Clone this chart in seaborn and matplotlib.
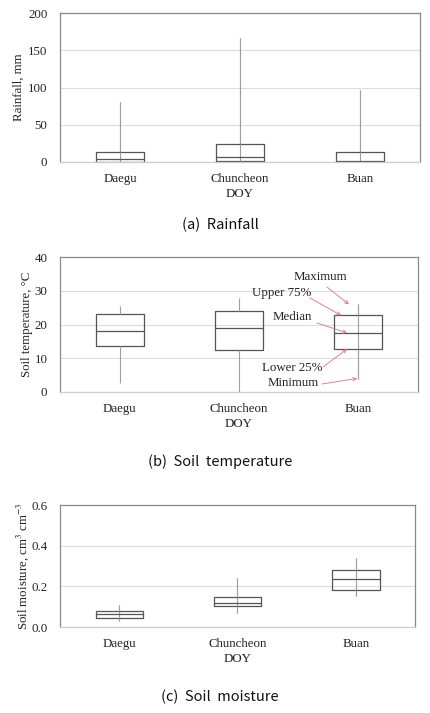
import pandas as pd
import seaborn as sns
import matplotlib
matplotlib.use('Agg')
import matplotlib.pyplot as plt
from matplotlib.ticker import FixedLocator

sites = ['Daegu', 'Chuncheon', 'Buan']

# five-number summaries: min, q1, median, q3, max
rain_min = [0.0, 0.0, 0.0]
rain_q1 = [0.5, 1.0, 0.5]
rain_med = [3.5, 7.0, 2.0]
rain_q3 = [13.0, 23.5, 13.5]
rain_max = [81.0, 167.0, 96.0]

temp_min = [2.7, 0.0, 4.0]
temp_q1 = [13.5, 12.5, 12.7]
temp_med = [18.0, 19.0, 17.5]
temp_q3 = [23.0, 24.0, 22.7]
temp_max = [25.5, 27.8, 26.0]

sm_min = [0.030, 0.070, 0.152]
sm_q1 = [0.045, 0.105, 0.183]
sm_med = [0.063, 0.120, 0.237]
sm_q3 = [0.077, 0.148, 0.280]
sm_max = [0.107, 0.243, 0.337]

def make_df(mn, q1, med, q3, mx):
    rows = []
    for i, s in enumerate(sites):
        for v in (mn[i], q1[i], med[i], q3[i], mx[i]):
            rows.append({'site': s, 'value': v})
    return pd.DataFrame(rows)

sns.set_style('white')
plt.rcParams['font.family'] = ['Liberation Serif', 'DejaVu Serif']
plt.rcParams['mathtext.fontset'] = 'stix'

FS = 9.3
TXT = '#222222'
fig = plt.figure(figsize=(4.31, 7.13), dpi=100)
W, H = 431.0, 713.0

def panel(top, bottom, right, df, mn, mx, ylim, yticks, yfmt, ylabel, caption, cap_y,
          through=(True, True, True), lpad=2):
    ax = fig.add_axes([60 / W, (H - bottom) / H, (right - 60) / W, (bottom - top) / H])
    # whisker line from min to max (drawn through the box)
    for i in range(len(sites)):
        if through[i]:
            ax.vlines(i, mn[i], mx[i], color='#a0a0a0', lw=0.8, zorder=1)
    sns.boxplot(data=df, x='site', y='value', whis=(0, 100), width=0.4,
                fill=False, showcaps=False, showfliers=False, color='#555555',
                linewidth=0.9, whiskerprops={'color': '#a0a0a0', 'linewidth': 0.8},
                medianprops={'color': '#555555', 'linewidth': 0.9}, ax=ax, zorder=2)
    ax.set_xlim(-0.5, 2.5)
    ax.set_ylim(*ylim)
    ax.set_yticks(yticks)
    ax.set_yticklabels([yfmt.format(t) for t in yticks], fontsize=FS, color=TXT)
    ax.set_xticks(range(len(sites)))
    ax.set_xticklabels(sites, fontsize=FS, color=TXT)
    ax.xaxis.set_minor_locator(FixedLocator([-0.5, 0.5, 1.5, 2.5]))
    ax.tick_params(axis='x', which='major', length=0, pad=8)
    ax.tick_params(axis='x', which='minor', length=3, color='#bbbbbb', direction='out')
    ax.tick_params(axis='y', length=0, pad=9)
    ax.yaxis.grid(True, color='#dddddd', lw=0.8)
    ax.set_axisbelow(True)
    for s in ax.spines.values():
        s.set_color('#8a8a8a')
        s.set_linewidth(0.9)
    ax.spines['bottom'].set_color('#cccccc')
    ax.set_xlabel('DOY', fontsize=FS, color=TXT, labelpad=2)
    ax.set_ylabel(ylabel, fontsize=FS, color=TXT, labelpad=lpad)
    fig.text(220 / W, 1 - cap_y / H, caption, ha='center', va='center', fontsize=10.5,
             family=['Noto Sans CJK KR', 'DejaVu Sans'], color='#111111')
    return ax

panel(13, 162, 420, make_df(rain_min, rain_q1, rain_med, rain_q3, rain_max),
      rain_min, rain_max, (0, 200), [0, 50, 100, 150, 200], '{:.0f}',
      'Rainfall, mm', '(a)  Rainfall', 225, lpad=2)

axb = panel(257, 392, 418, make_df(temp_min, temp_q1, temp_med, temp_q3, temp_max),
            temp_min, temp_max, (0, 40), [0, 10, 20, 30, 40], '{:.0f}',
            'Soil temperature, \u00b0C', '(b)  Soil  temperature', 462,
            through=(False, False, True), lpad=1)

# legend-style annotations on the Buan box: label, text centre (px), arrow tail (px), arrow tip (data)
ann = [('Maximum', (320, 277), (327, 287), (1.92, temp_max[2])),
       ('Upper 75%', (282, 293), (310, 298), (1.855, temp_q3[2])),
       ('Median', (292, 317), (317, 323), (1.905, temp_med[2])),
       ('Lower 25%', (292, 368), (323, 367), (1.905, temp_q1[2])),
       ('Minimum', (293, 383), (322, 384), (1.99, temp_min[2]))]
for label, (tx, ty), (ax0, ay0), xy in ann:
    fig.text(tx / W, 1 - ty / H, label, ha='center', va='center', fontsize=FS, color=TXT)
    axb.annotate('', xy=xy, xycoords='data',
                 xytext=(ax0 / W, 1 - ay0 / H), textcoords='figure fraction',
                 arrowprops=dict(arrowstyle='->', color='#e07080', lw=0.6,
                                 shrinkA=0, shrinkB=0, mutation_scale=6))

panel(505, 627, 415, make_df(sm_min, sm_q1, sm_med, sm_q3, sm_max),
      sm_min, sm_max, (0, 0.6), [0.0, 0.2, 0.4, 0.6], '{:.1f}',
      'Soil moisture, cm$^3$ cm$^{-3}$', '(c)  Soil  moisture', 697, lpad=0)

fig.savefig('out.png', dpi=100)
